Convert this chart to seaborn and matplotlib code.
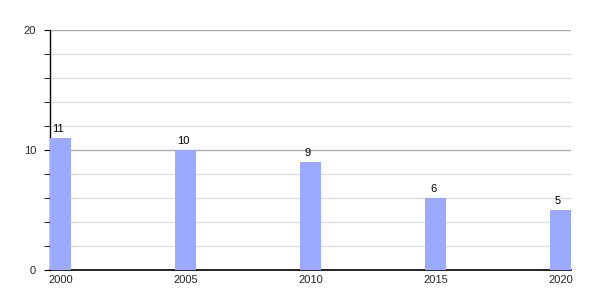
import matplotlib
matplotlib.use("Agg")
import matplotlib.pyplot as plt
import seaborn as sns
import pandas as pd
from matplotlib.ticker import MultipleLocator

years = ["2000", "2005", "2010", "2015", "2020"]
values = [11, 10, 9, 6, 5]

sns.set_style("white")
plt.rcParams['font.family'] = ['Liberation Sans', 'DejaVu Sans']

df = pd.DataFrame({"year": years, "value": values})

fig = plt.figure(figsize=(6, 3), dpi=100)
ax = fig.add_axes([50/600, 30/300, 521/600, 240/300])

w = 0.168
sns.barplot(data=df, x="year", y="value", color="#99aaff", saturation=1,
            width=w, ax=ax, zorder=3, linewidth=0)

ax.set_xlim(-w/2, len(years) - 1 + w/2)
ax.set_ylim(0, 20)
ax.yaxis.set_major_locator(MultipleLocator(10))
ax.yaxis.set_minor_locator(MultipleLocator(2))
ax.grid(axis="y", which="major", color="#aaaaaa", linewidth=1, zorder=0)
ax.grid(axis="y", which="minor", color="#dddddd", linewidth=1, zorder=0)
ax.set_axisbelow(True)

for s in ["top", "right"]:
    ax.spines[s].set_visible(False)
ax.spines["left"].set_color("black")
ax.spines["bottom"].set_color("black")
ax.spines["left"].set_linewidth(1)
ax.spines["bottom"].set_linewidth(1.2)

ax.tick_params(axis="y", which="both", left=True, length=4, color="black",
               labelsize=8, pad=6)
ax.tick_params(axis="x", bottom=False, labelsize=8, pad=0)
ax.set_xlabel("")
ax.set_ylabel("")

for i, v in enumerate(values):
    ax.text(i - 0.02, v + 0.35, str(v), ha="center", va="bottom", fontsize=8, color="black")

fig.savefig("out.png", dpi=100)
